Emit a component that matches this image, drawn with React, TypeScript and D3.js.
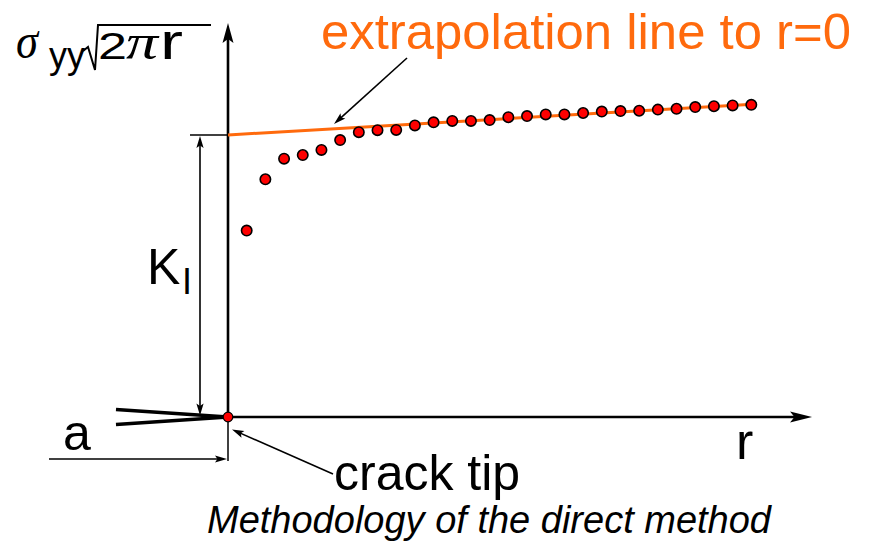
import React from "react";
import * as d3 from "d3";

// Normalised stress term sigma_yy * sqrt(2*pi*r) at each sampled distance r from the crack tip
const rValues = [1, 2, 3, 4, 5, 6, 7, 8, 9, 10, 11, 12, 13, 14, 15, 16, 17, 18, 19, 20, 21, 22, 23, 24, 25, 26, 27, 28];
const stressValues = [
  0.661, 0.843, 0.916, 0.929, 0.947, 0.982, 1.01, 1.017, 1.018, 1.034, 1.045, 1.05, 1.05, 1.053,
  1.063, 1.067, 1.073, 1.073, 1.078, 1.083, 1.085, 1.086, 1.09, 1.093, 1.099, 1.102, 1.105, 1.107,
];
// Linear fit of the far-field points, extrapolated back to r = 0
const fitR = [0, 28.3];
const fitValues = [1.0, 1.11];
const kI = 1.0;

const W = 869;
const H = 542;

const x = d3.scaleLinear().domain([0, 28]).range([228, 751.3]);
const y = d3.scaleLinear().domain([0, 1]).range([417, 135]);

const AXIS_R_END = 31.25;
const AXIS_V_END = 1.397;

const SANS = "'Liberation Sans', Arial, sans-serif";
const SERIF = "'Liberation Serif', 'Times New Roman', serif";
const ORANGE = "#ff6a0d";

// Filled arrowhead with a slightly concave back, tip at (tx, ty), pointing along (dx, dy)
function arrowHead(tx: number, ty: number, dx: number, dy: number, len: number, half: number, notch = 0.8) {
  const n = Math.hypot(dx, dy);
  const ux = dx / n;
  const uy = dy / n;
  const px = -uy;
  const py = ux;
  const bx = tx - ux * len;
  const by = ty - uy * len;
  const nx = tx - ux * len * notch;
  const ny = ty - uy * len * notch;
  return `M${tx},${ty}L${bx + px * half},${by + py * half}L${nx},${ny}L${bx - px * half},${by - py * half}Z`;
}

function Arrow({ x1, y1, x2, y2, width, len, half, notch }: { x1: number; y1: number; x2: number; y2: number; width: number; len: number; half: number; notch?: number }) {
  const dx = x2 - x1;
  const dy = y2 - y1;
  const n = Math.hypot(dx, dy);
  const ex = x2 - (dx / n) * len * 0.7;
  const ey = y2 - (dy / n) * len * 0.7;
  return (
    <g>
      <line x1={x1} y1={y1} x2={ex} y2={ey} stroke="#000" strokeWidth={width} />
      <path d={arrowHead(x2, y2, dx, dy, len, half, notch)} fill="#000" />
    </g>
  );
}

export default function App() {
  const x0 = x(0);
  const y0 = y(0);
  const yK = y(kI);
  const fitLine = d3
    .line<number>()
    .x((_, i) => x(fitR[i]))
    .y((d) => y(d));

  return (
    <svg width={W} height={H} style={{ position: "absolute", left: 0, top: 0, background: "#fff" }}>
      {/* y axis */}
      <line x1={x0} y1={y0} x2={x0} y2={y(AXIS_V_END) + 14} stroke="#000" strokeWidth={2.6} />
      <path d={arrowHead(x0, y(AXIS_V_END), 0, -1, 20, 5.5)} fill="#000" />
      {/* r axis */}
      <line x1={x0} y1={y0} x2={x(AXIS_R_END) - 14} y2={y0} stroke="#000" strokeWidth={2.6} />
      <path d={arrowHead(x(AXIS_R_END), y0, 1, 0, 22, 5.5)} fill="#000" />

      {/* crack faces */}
      <line x1={116} y1={409.5} x2={x0} y2={y0} stroke="#000" strokeWidth={3.4} />
      <line x1={116} y1={424.5} x2={x0} y2={y0} stroke="#000" strokeWidth={3.4} />

      {/* crack length dimension */}
      <line x1={x0} y1={y0} x2={x0} y2={461} stroke="#000" strokeWidth={1.5} />
      <Arrow x1={49} y1={459} x2={x0 - 1} y2={459} width={1.6} len={12} half={3.6} />
      <text x={63} y={450} fontFamily={SANS} fontSize={50} fill="#000">a</text>

      {/* K_I dimension */}
      <line x1={190} y1={yK} x2={x0} y2={yK} stroke="#000" strokeWidth={1.5} />
      <line x1={200} y1={yK + 8} x2={200} y2={y0 - 8} stroke="#000" strokeWidth={1.6} />
      <path d={arrowHead(200, yK + 1, 0, -1, 12, 3.6)} fill="#000" />
      <path d={arrowHead(200, y0 - 1.5, 0, 1, 12, 3.6)} fill="#000" />
      <text x={147} y={284} fontFamily={SANS} fontSize={50} fill="#000">K</text>
      <text x={182} y={294} fontFamily={SANS} fontSize={36} fill="#000">I</text>

      {/* extrapolation line */}
      <path d={fitLine(fitValues) || ""} fill="none" stroke={ORANGE} strokeWidth={3} />

      {/* sampled points */}
      {rValues.map((r, i) => (
        <circle key={r} cx={x(r)} cy={y(stressValues[i])} r={5.2} fill="#ff0000" stroke="#000" strokeWidth={1.6} />
      ))}
      {/* crack tip marker */}
      <circle cx={x0} cy={y0} r={4.8} fill="#ff0000" stroke="#000" strokeWidth={1.2} />

      {/* y axis label: sigma_yy sqrt(2 pi r) */}
      <text x={16} y={58} fontFamily={SERIF} fontStyle="italic" fontSize={50} textLength={22} lengthAdjust="spacingAndGlyphs" fill="#000">σ</text>
      <text x={49} y={68} fontFamily={SANS} fontSize={36} fill="#000">yy</text>
      <path d="M83,51 L88,47 L95,70 L98,25 L211,25" fill="none" stroke="#000" strokeWidth={2} strokeLinejoin="miter" />
      <text x={98} y={59} fontFamily={SANS} fontSize={37} textLength={29} lengthAdjust="spacingAndGlyphs" fill="#000">2</text>
      <text x={126} y={59} fontFamily={SERIF} fontStyle="italic" fontSize={50} textLength={32} lengthAdjust="spacingAndGlyphs" fill="#000">π</text>
      <text x={160} y={59} fontFamily={SANS} fontSize={50} textLength={23} lengthAdjust="spacingAndGlyphs" fill="#000">r</text>

      {/* r axis label */}
      <text x={736} y={459} fontFamily={SANS} fontSize={52} fill="#000">r</text>

      {/* annotations */}
      <text x={321} y={49} fontFamily={SANS} fontSize={50} textLength={530} lengthAdjust="spacingAndGlyphs" fill={ORANGE}>extrapolation line to r=0</text>
      <Arrow x1={407} y1={58} x2={334} y2={124} width={1.6} len={12} half={3.6} />
      <text x={334} y={490} fontFamily={SANS} fontSize={50} fill="#000">crack tip</text>
      <Arrow x1={333} y1={474} x2={232} y2={429.5} width={1.6} len={12} half={3.6} />

      {/* caption */}
      <text x={207} y={533} fontFamily={SANS} fontStyle="italic" fontSize={38} textLength={564} lengthAdjust="spacing" fill="#000">
        Methodology of the direct method
      </text>
    </svg>
  );
}
